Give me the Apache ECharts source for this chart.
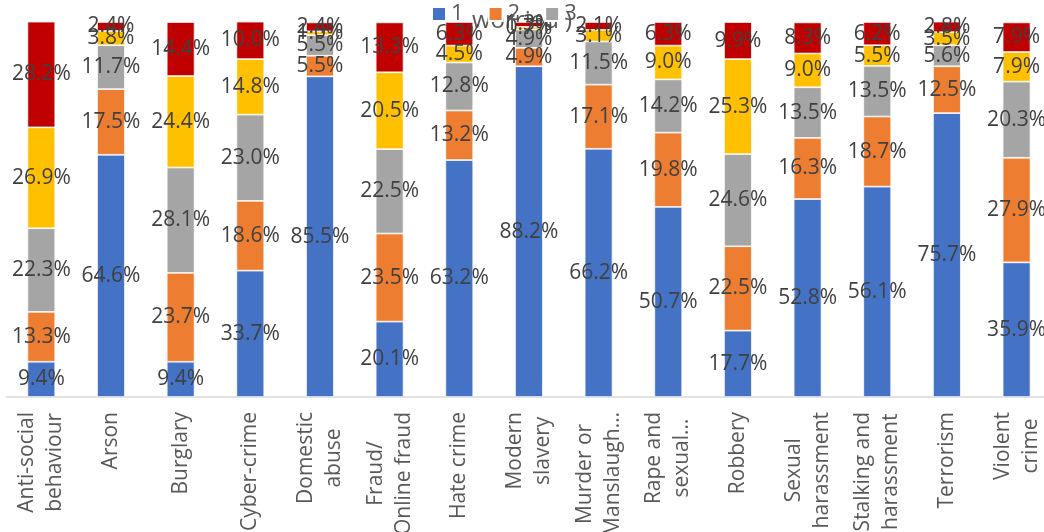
<!DOCTYPE html>
<html>
<head>
<meta charset="utf-8">
<script src="https://cdn.jsdelivr.net/npm/echarts@6/dist/echarts.min.js"></script>
<style>
html,body{margin:0;padding:0;background:#fff;}
#chart{width:1044px;height:532px;}
</style>
</head>
<body>
<div id="chart"></div>
<script>
const categories = [
  "Anti-social\nbehaviour", "Arson", "Burglary", "Cyber-crime", "Domestic\nabuse",
  "Fraud/\nOnline fraud", "Hate crime", "Modern\nslavery", "Murder or\nManslaugh…",
  "Rape and\nsexual…", "Robbery", "Sexual\nharassment", "Stalking and\nharassment",
  "Terrorism", "Violent\ncrime"
];
const seriesNames = ["1", "2", "3", "4", "5"];
const s1 = [9.4, 64.6, 9.4, 33.7, 85.5, 20.1, 63.2, 88.2, 66.2, 50.7, 17.7, 52.8, 56.1, 75.7, 35.9];
const s2 = [13.3, 17.5, 23.7, 18.6, 5.5, 23.5, 13.2, 4.9, 17.1, 19.8, 22.5, 16.3, 18.7, 12.5, 27.9];
const s3 = [22.3, 11.7, 28.1, 23.0, 5.5, 22.5, 12.8, 4.9, 11.5, 14.2, 24.6, 13.5, 13.5, 5.6, 20.3];
const s4 = [26.9, 3.8, 24.4, 14.8, 1.0, 20.5, 4.5, 0.7, 3.1, 9.0, 25.3, 9.0, 5.5, 3.5, 7.9];
const s5 = [28.2, 2.4, 14.4, 10.0, 2.4, 13.3, 6.3, 1.3, 2.1, 6.3, 9.9, 8.3, 6.2, 2.8, 7.9];
const legendShown = ["1", "2", "3"];
const colors = ["#4472C4", "#ED7D31", "#A5A5A5", "#FFC000", "#C00000"];

const FONT = "'Open Sans', 'Noto Sans', sans-serif";
const allData = [s1, s2, s3, s4, s5];

const chart = echarts.init(document.getElementById('chart'), null, {renderer: 'canvas'});
chart.setOption({
  animation: false,
  color: colors,
  legend: {
    data: legendShown,
    left: 431,
    top: 3,
    padding: 0,
    icon: 'rect',
    itemWidth: 14,
    itemHeight: 14,
    itemGap: 24,
    textStyle: {fontFamily: FONT, fontSize: 22, color: '#595959'}
  },
  graphic: [{
    type: 'text',
    left: 472,
    top: 9,
    style: {text: 'worried )', font: "24px 'Open Sans', sans-serif", fill: '#595959'}
  }],
  grid: {left: 6.5, right: -7.4, top: 22, bottom: 135, containLabel: false, outerBoundsMode: 'none'},
  xAxis: {
    type: 'category',
    data: categories,
    axisTick: {show: false},
    axisLine: {lineStyle: {color: '#d9d9d9', width: 1.5}},
    axisLabel: {
      interval: 0,
      rotate: 90,
      margin: 15,
      hideOverlap: false,
      formatter: function (v) {
        return v.split('\n').map(function (l) { return '{c|' + l + '}'; }).join('\n');
      },
      rich: {
        c: {align: 'center', fontFamily: FONT, fontSize: 21, lineHeight: 28, color: '#595959'}
      }
    }
  },
  yAxis: {
    type: 'value', min: 0, max: 100, show: false,
    splitLine: {show: false}
  },
  series: seriesNames.map(function (name, i) {
    return {
      name: name,
      type: 'bar',
      stack: 'total',
      barWidth: '40%',
      data: allData[i],
      itemStyle: {color: colors[i], borderColor: '#ffffff', borderWidth: 0.75},
      label: {
        show: true,
        position: 'inside',
        formatter: function (p) { return p.value.toFixed(1) + '%'; },
        fontFamily: FONT,
        fontSize: 21,
        color: '#404040'
      }
    };
  })
});
</script>
</body>
</html>
